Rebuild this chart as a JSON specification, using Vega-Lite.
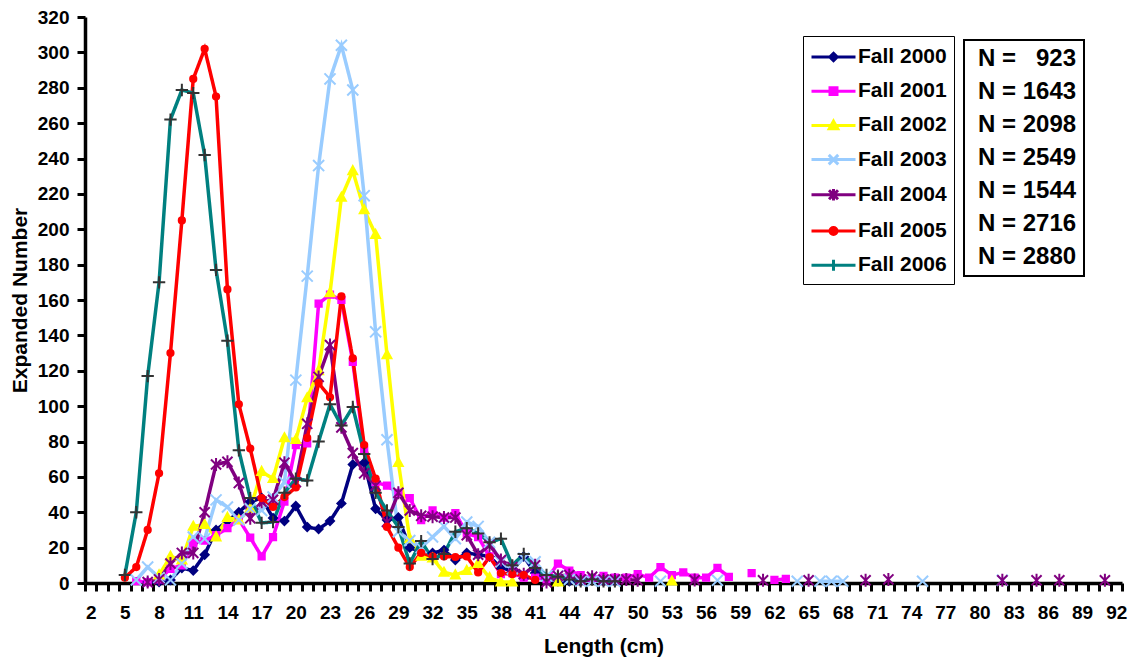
{
  "$schema": "https://vega.github.io/schema/vega-lite/v6.json",
  "width": 1037,
  "height": 566,
  "autosize": {"type": "none"},
  "padding": {"left": 85, "top": 17, "right": 15, "bottom": 79},
  "background": "white",
  "config": {
    "font": "Liberation Sans",
    "view": {"stroke": null},
    "axis": {"grid": false}
  },
  "datasets": {
    "counts": [
      {"series": "Fall 2000", "year": "2000", "nlabel": "N = \u00a0\u00a0923"},
      {"series": "Fall 2001", "year": "2001", "nlabel": "N = 1643"},
      {"series": "Fall 2002", "year": "2002", "nlabel": "N = 2098"},
      {"series": "Fall 2003", "year": "2003", "nlabel": "N = 2549"},
      {"series": "Fall 2004", "year": "2004", "nlabel": "N = 1544"},
      {"series": "Fall 2005", "year": "2005", "nlabel": "N = 2716"},
      {"series": "Fall 2006", "year": "2006", "nlabel": "N = 2880"}
    ]
  },
  "data": {
    "values": [
      {"len": 5, "Fall 2005": 3, "Fall 2006": 4.5},
      {"len": 6, "Fall 2001": 1, "Fall 2003": 1.7, "Fall 2005": 9, "Fall 2006": 40},
      {"len": 7, "Fall 2000": 0.5, "Fall 2001": 0.5, "Fall 2003": 9, "Fall 2004": 0.5, "Fall 2005": 30, "Fall 2006": 117},
      {"len": 8, "Fall 2000": 0.5, "Fall 2001": 2, "Fall 2002": 4.5, "Fall 2003": 3, "Fall 2004": 2, "Fall 2005": 62, "Fall 2006": 170},
      {"len": 9, "Fall 2000": 1.7, "Fall 2001": 8, "Fall 2002": 15, "Fall 2003": 1.7, "Fall 2004": 11, "Fall 2005": 130, "Fall 2006": 262},
      {"len": 10, "Fall 2000": 8.5, "Fall 2001": 10, "Fall 2002": 13, "Fall 2003": 11, "Fall 2004": 17, "Fall 2005": 205, "Fall 2006": 278.7},
      {"len": 11, "Fall 2000": 7, "Fall 2001": 22.6, "Fall 2002": 32, "Fall 2003": 26, "Fall 2004": 17, "Fall 2005": 285, "Fall 2006": 277},
      {"len": 12, "Fall 2000": 16, "Fall 2001": 24, "Fall 2002": 33, "Fall 2003": 25, "Fall 2004": 40, "Fall 2005": 302, "Fall 2006": 242},
      {"len": 13, "Fall 2000": 30, "Fall 2001": 27, "Fall 2002": 26, "Fall 2003": 47, "Fall 2004": 67, "Fall 2005": 275, "Fall 2006": 177},
      {"len": 14, "Fall 2000": 35, "Fall 2001": 31, "Fall 2002": 37, "Fall 2003": 43, "Fall 2004": 68.5, "Fall 2005": 166, "Fall 2006": 137},
      {"len": 15, "Fall 2000": 40, "Fall 2001": 36, "Fall 2002": 35.6, "Fall 2003": 35.6, "Fall 2004": 56.5, "Fall 2005": 101, "Fall 2006": 75},
      {"len": 16, "Fall 2000": 46, "Fall 2001": 25.6, "Fall 2002": 42, "Fall 2003": 42, "Fall 2004": 36.6, "Fall 2005": 76, "Fall 2006": 48},
      {"len": 17, "Fall 2000": 48, "Fall 2001": 15, "Fall 2002": 63, "Fall 2003": 41, "Fall 2004": 46, "Fall 2005": 48, "Fall 2006": 34},
      {"len": 18, "Fall 2000": 36.7, "Fall 2001": 26, "Fall 2002": 59, "Fall 2003": 48.6, "Fall 2004": 47, "Fall 2005": 43, "Fall 2006": 34.5},
      {"len": 19, "Fall 2000": 35, "Fall 2001": 46, "Fall 2002": 82, "Fall 2003": 57, "Fall 2004": 68, "Fall 2005": 48.6, "Fall 2006": 51},
      {"len": 20, "Fall 2000": 43.5, "Fall 2001": 78, "Fall 2002": 81, "Fall 2003": 114.7, "Fall 2004": 57, "Fall 2005": 54, "Fall 2006": 59},
      {"len": 21, "Fall 2000": 31.6, "Fall 2001": 79, "Fall 2002": 104.6, "Fall 2003": 173.5, "Fall 2004": 90, "Fall 2005": 82, "Fall 2006": 58},
      {"len": 22, "Fall 2000": 30.5, "Fall 2001": 158, "Fall 2002": 120, "Fall 2003": 236, "Fall 2004": 116.5, "Fall 2005": 113, "Fall 2006": 80},
      {"len": 23, "Fall 2000": 35, "Fall 2001": 163, "Fall 2002": 164, "Fall 2003": 285, "Fall 2004": 134.5, "Fall 2005": 105, "Fall 2006": 101},
      {"len": 24, "Fall 2000": 45, "Fall 2001": 160, "Fall 2002": 218, "Fall 2003": 304, "Fall 2004": 88, "Fall 2005": 162, "Fall 2006": 89},
      {"len": 25, "Fall 2000": 67, "Fall 2001": 125, "Fall 2002": 233, "Fall 2003": 278.7, "Fall 2004": 73.5, "Fall 2005": 127, "Fall 2006": 99.5},
      {"len": 26, "Fall 2000": 68, "Fall 2001": 75, "Fall 2002": 211, "Fall 2003": 219, "Fall 2004": 62, "Fall 2005": 78, "Fall 2006": 73},
      {"len": 27, "Fall 2000": 42, "Fall 2001": 57, "Fall 2002": 197, "Fall 2003": 142, "Fall 2004": 55, "Fall 2005": 59, "Fall 2006": 51},
      {"len": 28, "Fall 2000": 35.6, "Fall 2001": 55, "Fall 2002": 129, "Fall 2003": 81, "Fall 2004": 34.5, "Fall 2005": 31.7, "Fall 2006": 41},
      {"len": 29, "Fall 2000": 37, "Fall 2001": 51, "Fall 2002": 68, "Fall 2003": 29, "Fall 2004": 51, "Fall 2005": 20, "Fall 2006": 31.6},
      {"len": 30, "Fall 2000": 20, "Fall 2001": 48, "Fall 2002": 25, "Fall 2003": 24, "Fall 2004": 41, "Fall 2005": 9, "Fall 2006": 11},
      {"len": 31, "Fall 2000": 17.5, "Fall 2001": 35.6, "Fall 2002": 15, "Fall 2003": 20, "Fall 2004": 38, "Fall 2005": 17, "Fall 2006": 23.7},
      {"len": 32, "Fall 2000": 17, "Fall 2001": 41, "Fall 2002": 14, "Fall 2003": 26, "Fall 2004": 37.5, "Fall 2005": 15, "Fall 2006": 13.5},
      {"len": 33, "Fall 2000": 18.6, "Fall 2001": 37, "Fall 2002": 6, "Fall 2003": 32, "Fall 2004": 37, "Fall 2005": 15, "Fall 2006": 16.4},
      {"len": 34, "Fall 2000": 13, "Fall 2001": 39.5, "Fall 2002": 4.5, "Fall 2003": 25, "Fall 2004": 37, "Fall 2005": 14.7, "Fall 2006": 29},
      {"len": 35, "Fall 2000": 17, "Fall 2001": 28, "Fall 2002": 7, "Fall 2003": 34.5, "Fall 2004": 27, "Fall 2005": 15, "Fall 2006": 31},
      {"len": 36, "Fall 2000": 16, "Fall 2001": 26, "Fall 2002": 11, "Fall 2003": 32, "Fall 2004": 16, "Fall 2005": 6, "Fall 2006": 28},
      {"len": 37, "Fall 2000": 15, "Fall 2001": 15, "Fall 2002": 3, "Fall 2003": 23, "Fall 2004": 21.5, "Fall 2005": 14.7, "Fall 2006": 23},
      {"len": 38, "Fall 2000": 8.5, "Fall 2001": 5, "Fall 2002": 0.5, "Fall 2003": 12, "Fall 2004": 13, "Fall 2005": 5.6, "Fall 2006": 25},
      {"len": 39, "Fall 2000": 7, "Fall 2001": 5.6, "Fall 2002": 0.5, "Fall 2003": 8, "Fall 2004": 9, "Fall 2005": 5, "Fall 2006": 10},
      {"len": 40, "Fall 2000": 15, "Fall 2001": 3, "Fall 2003": 14, "Fall 2004": 5, "Fall 2005": 4.5, "Fall 2006": 16.4},
      {"len": 41, "Fall 2000": 5.6, "Fall 2001": 3, "Fall 2003": 12, "Fall 2004": 10, "Fall 2005": 1.7, "Fall 2006": 8.5},
      {"len": 42, "Fall 2000": 2, "Fall 2001": 2, "Fall 2003": 4, "Fall 2004": 0.5, "Fall 2006": 4.5},
      {"len": 43, "Fall 2000": 1, "Fall 2001": 11, "Fall 2002": 0.5, "Fall 2003": 4, "Fall 2004": 4, "Fall 2006": 3.5},
      {"len": 44, "Fall 2000": 1, "Fall 2001": 7, "Fall 2003": 2, "Fall 2004": 4.5, "Fall 2006": 2},
      {"len": 45, "Fall 2000": 1, "Fall 2001": 4.5, "Fall 2003": 1, "Fall 2004": 2, "Fall 2006": 1},
      {"len": 46, "Fall 2000": 2, "Fall 2001": 3, "Fall 2003": 1, "Fall 2004": 3.5, "Fall 2006": 2},
      {"len": 47, "Fall 2000": 1, "Fall 2001": 4, "Fall 2003": 1, "Fall 2004": 2, "Fall 2006": 1},
      {"len": 48, "Fall 2000": 1, "Fall 2001": 3, "Fall 2003": 1, "Fall 2004": 2, "Fall 2006": 1},
      {"len": 49, "Fall 2001": 3, "Fall 2004": 2},
      {"len": 50, "Fall 2001": 5, "Fall 2004": 1.5},
      {"len": 51, "Fall 2001": 3},
      {"len": 52, "Fall 2001": 9, "Fall 2003": 1},
      {"len": 53, "Fall 2001": 4.5, "Fall 2002": 1},
      {"len": 54, "Fall 2001": 6},
      {"len": 55, "Fall 2001": 3, "Fall 2004": 1.7},
      {"len": 56, "Fall 2001": 3},
      {"len": 57, "Fall 2001": 8.5, "Fall 2003": 1.5},
      {"len": 58, "Fall 2001": 3.5},
      {"len": 59},
      {"len": 60, "Fall 2001": 5.6},
      {"len": 61, "Fall 2004": 1.5},
      {"len": 62, "Fall 2001": 1.7},
      {"len": 63, "Fall 2001": 2.3},
      {"len": 64, "Fall 2003": 1},
      {"len": 65, "Fall 2004": 1.5},
      {"len": 66, "Fall 2003": 1},
      {"len": 67, "Fall 2003": 1},
      {"len": 68, "Fall 2003": 1},
      {"len": 69},
      {"len": 70, "Fall 2004": 1.5},
      {"len": 71},
      {"len": 72, "Fall 2004": 2},
      {"len": 73},
      {"len": 74},
      {"len": 75, "Fall 2003": 1},
      {"len": 76},
      {"len": 77},
      {"len": 78},
      {"len": 79},
      {"len": 80},
      {"len": 81},
      {"len": 82, "Fall 2003": 1.5, "Fall 2004": 1.5},
      {"len": 83},
      {"len": 84},
      {"len": 85, "Fall 2004": 1.5},
      {"len": 86},
      {"len": 87, "Fall 2004": 1.5},
      {"len": 88},
      {"len": 89},
      {"len": 90},
      {"len": 91, "Fall 2004": 1.5},
      {"len": 92}
    ]
  },
  "transform": [
    {"fold": ["Fall 2000", "Fall 2001", "Fall 2002", "Fall 2003", "Fall 2004", "Fall 2005", "Fall 2006"], "as": ["series", "value"]},
    {"lookup": "series", "from": {"data": {"name": "counts"}, "key": "series", "fields": ["year", "nlabel"]}}
  ],
  "encoding": {
    "x": {
      "field": "len",
      "type": "quantitative",
      "scale": {"domain": [1.5, 92.5], "nice": false, "zero": false},
      "axis": {
        "title": "Length (cm)",
        "values": [1.5,2.5,3.5,4.5,5.5,6.5,7.5,8.5,9.5,10.5,11.5,12.5,13.5,14.5,15.5,16.5,17.5,18.5,19.5,20.5,21.5,22.5,23.5,24.5,25.5,26.5,27.5,28.5,29.5,30.5,31.5,32.5,33.5,34.5,35.5,36.5,37.5,38.5,39.5,40.5,41.5,42.5,43.5,44.5,45.5,46.5,47.5,48.5,49.5,50.5,51.5,52.5,53.5,54.5,55.5,56.5,57.5,58.5,59.5,60.5,61.5,62.5,63.5,64.5,65.5,66.5,67.5,68.5,69.5,70.5,71.5,72.5,73.5,74.5,75.5,76.5,77.5,78.5,79.5,80.5,81.5,82.5,83.5,84.5,85.5,86.5,87.5,88.5,89.5,90.5,91.5,92.5],
        "labelExpr": "(datum.value - 1.5) % 3 == 0 ? format(datum.value + 0.5, 'd') : ''",
        "labelOffset": 5.7,
        "labelFlush": false,
        "labelOverlap": false,
        "labelAngle": 0,
        "labelFontSize": 19,
        "labelFontWeight": "bold",
        "labelColor": "black",
        "labelPadding": 12,
        "tickSize": 8,
        "tickWidth": 3,
        "tickColor": "black",
        "domainColor": "black",
        "domainWidth": 3.5,
        "titleFontSize": 21,
        "titleFontWeight": "bold",
        "titleColor": "black",
        "titlePadding": 13
      }
    },
    "y": {
      "field": "value",
      "type": "quantitative",
      "scale": {"domain": [0, 320], "nice": false},
      "axis": {
        "title": "Expanded Number",
        "values": [0,20,40,60,80,100,120,140,160,180,200,220,240,260,280,300,320],
        "labelFontSize": 19,
        "labelFontWeight": "bold",
        "labelColor": "black",
        "labelPadding": 8,
        "tickSize": 8,
        "tickWidth": 3,
        "tickColor": "black",
        "domainColor": "black",
        "domainWidth": 3.5,
        "titleFontSize": 21,
        "titleFontWeight": "bold",
        "titleColor": "black",
        "titlePadding": 7
      }
    }
  },
  "layer": [
    {
      "mark": {"type": "line", "strokeWidth": 3.5, "invalid": "break-paths-filter-domains"},
      "encoding": {
        "color": {
          "field": "series",
          "type": "nominal",
          "scale": {
            "domain": ["Fall 2000", "Fall 2001", "Fall 2002", "Fall 2003", "Fall 2004", "Fall 2005", "Fall 2006"],
            "range": ["#000080", "#FF00FF", "#FFFF00", "#99CCFF", "#800080", "#FF0000", "#008080"]
          },
          "legend": {
            "orient": "none",
            "legendX": 718,
            "legendY": 19,
            "title": null,
            "padding": 7,
            "strokeColor": "black",
            "fillColor": "white",
            "symbolSize": 625,
            "symbolStrokeWidth": 3,
            "labelOffset": 20,
            "rowPadding": 10.2,
            "labelFontSize": 21,
            "labelFontWeight": "bold",
            "labelColor": "black",
            "labelFont": "Liberation Sans",
            "encode": {
              "symbols": {
                "update": {
                  "shape": {"signal": "datum.value === 'Fall 2000' ? 'M-1,0L2.52,0M0.76,-0.3L1.06,0L0.76,0.3L0.46,0Z' : datum.value === 'Fall 2001' ? 'M-1,0L2.52,0M0.48,-0.27L1.04,-0.27L1.04,0.27L0.48,0.27Z' : datum.value === 'Fall 2002' ? 'M-1,0L2.52,0M0.76,-0.34L1.1,0.26L0.42,0.26Z' : datum.value === 'Fall 2003' ? 'M-1,0L2.52,0M0.38,-0.38L1.14,0.38M0.38,0.38L1.14,-0.38' : datum.value === 'Fall 2004' ? 'M-1,0L2.52,0M0.4,-0.36L1.12,0.36M0.4,0.36L1.12,-0.36M0.76,-0.46L0.76,0.46' : datum.value === 'Fall 2005' ? 'M-1,0L2.52,0M0.48,0A0.28,0.28,0,1,0,1.04,0A0.28,0.28,0,1,0,0.48,0Z' : 'M-1,0L2.52,0M0.76,-0.44L0.76,0.44'"},
                  "fill": {"scale": "color", "field": "value"},
                  "stroke": {"scale": "color", "field": "value"},
                  "strokeWidth": {"value": 3},
                  "opacity": {"value": 1}
                }
              }
            }
          }
        },
        "strokeDash": {
          "field": "nlabel",
          "type": "nominal",
          "scale": {
            "domain": ["N = \u00a0\u00a0923", "N = 1643", "N = 2098", "N = 2549", "N = 1544", "N = 2716", "N = 2880"],
            "range": [[1, 0], [1, 0], [1, 0], [1, 0], [1, 0], [1, 0], [1, 0]]
          },
          "legend": {
            "orient": "none",
            "legendX": 879,
            "legendY": 23,
            "title": null,
            "padding": 7,
            "strokeColor": "black",
            "fillColor": "white",
            "symbolSize": 0,
            "symbolOpacity": 0,
            "labelOffset": -17,
            "rowPadding": 9,
            "labelFontSize": 24,
            "labelFontWeight": "bold",
            "labelColor": "black",
            "labelFont": "Liberation Sans",
            "encode": {"legend": {"update": {"strokeWidth": {"value": 2}}}}
          }
        }
      }
    },
    {
      "mark": {"type": "point", "size": 169, "strokeWidth": 2, "opacity": 1, "fillOpacity": 1, "invalid": "filter"},
      "encoding": {
        "shape": {
          "field": "year",
          "type": "nominal",
          "scale": {
            "domain": ["2000", "2001", "2002", "2003", "2004", "2005", "2006"],
            "range": [
              "M0,-0.62L0.62,0L0,0.62L-0.62,0Z",
              "M-0.48,-0.48L0.48,-0.48L0.48,0.48L-0.48,0.48Z",
              "M0,-0.72L0.68,0.52L-0.68,0.52Z",
              "M-0.85,-0.85L0.85,0.85M-0.85,0.85L0.85,-0.85",
              "M-0.78,-0.78L0.78,0.78M-0.78,0.78L0.78,-0.78M0,-1L0,1",
              "M-0.48,0A0.48,0.48,0,1,0,0.48,0A0.48,0.48,0,1,0,-0.48,0Z",
              "M-0.95,0L0.95,0M0,-0.95L0,0.95"
            ]
          },
          "legend": null
        },
        "fill": {
          "field": "year",
          "type": "nominal",
          "scale": {
            "domain": ["2000", "2001", "2002", "2003", "2004", "2005", "2006"],
            "range": ["#000080", "#FF00FF", "#FFFF00", "#99CCFF", "#800080", "#FF0000", "#333333"]
          },
          "legend": null
        },
        "stroke": {
          "field": "year",
          "type": "nominal",
          "scale": {
            "domain": ["2000", "2001", "2002", "2003", "2004", "2005", "2006"],
            "range": ["#000080", "#FF00FF", "#FFFF00", "#99CCFF", "#800080", "#FF0000", "#333333"]
          },
          "legend": null
        }
      }
    }
  ]
}
